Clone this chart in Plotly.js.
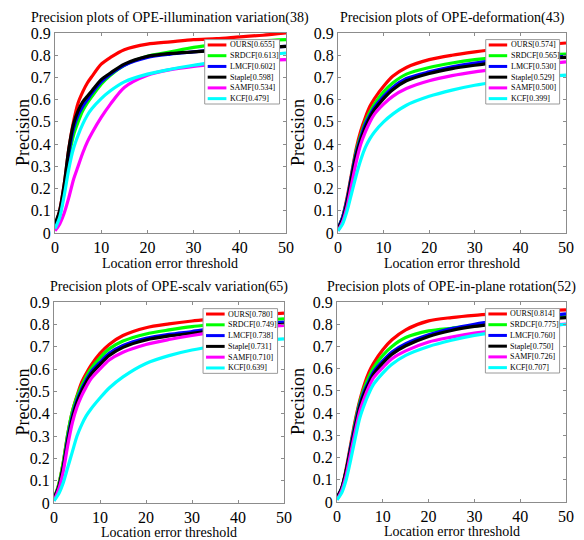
<!DOCTYPE html>
<html><head><meta charset="utf-8">
<script src="https://cdn.plot.ly/plotly-3.0.1.min.js"></script>
<style>html,body{margin:0;padding:0;background:#fff;}#chart{width:584px;height:540px;}</style>
</head><body><div id="chart"></div>
<script>
const thresholds = [0,1,2,3,4,5,6,7,8,10,12,15,20,25,30,35,40,45,50];
const trackers = ['OURS','SRDCF','LMCF','Staple','SAMF','KCF'];
const trackerColors = ['#ff0000','#00ff00','#0000ff','#000000','#ff00ff','#00ffff'];
const panelTitles = [
  'Precision plots of OPE-illumination variation(38)',
  'Precision plots of OPE-deformation(43)',
  'Precision plots of OPE-scalv variation(65)',
  'Precision plots of OPE-in-plane rotation(52)'
];
const xTitle = 'Location error threshold';
const yTitle = 'Precision';
const scores1 = ['0.655','0.613','0.602','0.598','0.534','0.479'];
const scores2 = ['0.574','0.565','0.530','0.529','0.500','0.399'];
const scores3 = ['0.780','0.749','0.738','0.731','0.710','0.639'];
const scores4 = ['0.814','0.775','0.760','0.750','0.726','0.707'];

const illumOURS   = [0.03,0.10,0.22,0.38,0.50,0.585,0.635,0.675,0.705,0.76,0.79,0.825,0.85,0.86,0.87,0.875,0.883,0.89,0.90];
const illumSRDCF  = [0.03,0.08,0.19,0.34,0.44,0.50,0.55,0.585,0.615,0.67,0.71,0.755,0.795,0.815,0.835,0.848,0.858,0.865,0.87];
const illumLMCF   = [0.03,0.09,0.20,0.36,0.47,0.53,0.57,0.60,0.63,0.68,0.715,0.755,0.79,0.805,0.815,0.825,0.83,0.835,0.84];
const illumStaple = [0.04,0.10,0.22,0.38,0.49,0.55,0.59,0.615,0.64,0.69,0.72,0.76,0.795,0.808,0.815,0.822,0.828,0.833,0.84];
const illumSAMF   = [0.01,0.04,0.09,0.16,0.24,0.30,0.36,0.41,0.45,0.52,0.58,0.655,0.71,0.735,0.75,0.76,0.768,0.775,0.78];
const illumKCF    = [0.02,0.07,0.17,0.29,0.38,0.44,0.49,0.53,0.56,0.605,0.64,0.68,0.715,0.737,0.755,0.77,0.785,0.80,0.81];

const deformOURS   = [0.02,0.07,0.16,0.27,0.38,0.46,0.52,0.57,0.605,0.66,0.705,0.745,0.78,0.80,0.815,0.828,0.838,0.847,0.855];
const deformSRDCF  = [0.02,0.07,0.15,0.26,0.37,0.44,0.50,0.545,0.58,0.635,0.675,0.715,0.745,0.765,0.78,0.79,0.797,0.802,0.805];
const deformLMCF   = [0.02,0.07,0.15,0.26,0.36,0.43,0.49,0.53,0.565,0.615,0.655,0.695,0.725,0.748,0.765,0.777,0.785,0.79,0.795];
const deformStaple = [0.02,0.06,0.14,0.25,0.35,0.42,0.475,0.52,0.555,0.605,0.645,0.685,0.718,0.74,0.755,0.768,0.777,0.785,0.79];
const deformSAMF   = [0.01,0.05,0.12,0.22,0.32,0.40,0.455,0.50,0.535,0.58,0.615,0.65,0.685,0.708,0.725,0.738,0.75,0.76,0.77];
const deformKCF    = [0.01,0.04,0.10,0.18,0.26,0.33,0.385,0.425,0.455,0.50,0.535,0.575,0.615,0.643,0.665,0.68,0.692,0.702,0.71];

const scaleOURS   = [0.02,0.08,0.18,0.31,0.41,0.48,0.54,0.58,0.615,0.67,0.71,0.75,0.785,0.802,0.815,0.825,0.835,0.843,0.85];
const scaleSRDCF  = [0.02,0.08,0.18,0.31,0.41,0.475,0.525,0.565,0.60,0.65,0.69,0.725,0.757,0.775,0.79,0.80,0.81,0.818,0.825];
const scaleLMCF   = [0.02,0.07,0.16,0.29,0.39,0.46,0.51,0.55,0.585,0.63,0.67,0.705,0.737,0.755,0.768,0.782,0.793,0.802,0.81];
const scaleStaple = [0.02,0.07,0.16,0.28,0.38,0.45,0.50,0.54,0.575,0.62,0.66,0.697,0.73,0.748,0.76,0.772,0.782,0.792,0.80];
const scaleSAMF   = [0.01,0.06,0.14,0.26,0.36,0.43,0.48,0.52,0.555,0.60,0.64,0.675,0.71,0.732,0.75,0.765,0.777,0.787,0.795];
const scaleKCF    = [0.01,0.04,0.09,0.16,0.23,0.30,0.35,0.39,0.42,0.47,0.515,0.565,0.625,0.66,0.685,0.702,0.715,0.727,0.735];

const rotOURS   = [0.02,0.06,0.15,0.26,0.37,0.46,0.53,0.585,0.625,0.685,0.73,0.775,0.815,0.83,0.84,0.847,0.853,0.86,0.865];
const rotSRDCF  = [0.02,0.06,0.14,0.25,0.36,0.45,0.515,0.565,0.605,0.66,0.70,0.74,0.77,0.782,0.792,0.805,0.818,0.83,0.84];
const rotLMCF   = [0.02,0.06,0.14,0.25,0.35,0.44,0.50,0.545,0.585,0.635,0.675,0.712,0.752,0.78,0.80,0.815,0.827,0.838,0.847];
const rotStaple = [0.02,0.06,0.14,0.24,0.34,0.43,0.49,0.535,0.575,0.625,0.665,0.703,0.745,0.772,0.79,0.803,0.815,0.823,0.83];
const rotSAMF   = [0.01,0.05,0.12,0.22,0.32,0.41,0.47,0.52,0.56,0.605,0.645,0.68,0.72,0.742,0.76,0.773,0.784,0.793,0.80];
const rotKCF    = [0.01,0.04,0.10,0.19,0.29,0.38,0.44,0.49,0.53,0.58,0.62,0.66,0.70,0.728,0.75,0.765,0.778,0.79,0.80];

const panels = [
  {series:[illumOURS,illumSRDCF,illumLMCF,illumStaple,illumSAMF,illumKCF], scores:scores1},
  {series:[deformOURS,deformSRDCF,deformLMCF,deformStaple,deformSAMF,deformKCF], scores:scores2},
  {series:[scaleOURS,scaleSRDCF,scaleLMCF,scaleStaple,scaleSAMF,scaleKCF], scores:scores3},
  {series:[rotOURS,rotSRDCF,rotLMCF,rotStaple,rotSAMF,rotKCF], scores:scores4}
];

const W = 584, H = 540;
const FONT = '"Liberation Serif", "Times New Roman", serif';
// plot-area pixel boxes [left, right, top, bottom]
const boxes = [[55,286,33,233],[338,566,33,233],[54,284,302,503],[337,566,302,502]];
const titleYpx = [18, 18, 287, 287];
const yTitleXpx = [23, 298, 22, 298];
const xTitleYpx = [263, 263, 532, 531];

const data = [];
const layout = {
  width: W, height: H, margin:{l:0,r:0,t:0,b:0},
  paper_bgcolor:'#fff', plot_bgcolor:'#fff', showlegend:false,
  font:{family:FONT, color:'#000'},
  annotations:[], shapes:[]
};

panels.forEach((p, i) => {
  const k = i === 0 ? '' : String(i+1);
  const b = boxes[i];
  const xd = [b[0]/W, b[1]/W], yd = [1 - b[3]/H, 1 - b[2]/H];
  p.series.forEach((ys, j) => {
    data.push({
      type:'scatter', mode:'lines', x:thresholds, y:ys,
      name: trackers[j] + '[' + p.scores[j] + ']',
      xaxis:'x'+k, yaxis:'y'+k,
      line:{color:trackerColors[j], width:3.2, shape:'spline', smoothing:0.8},
      hoverinfo:'skip'
    });
  });
  const axCommon = {
    showline:true, mirror:'ticks', linecolor:'#8c8c8c', linewidth:1,
    ticks:'inside', ticklen:3, tickcolor:'#8c8c8c', showgrid:false, zeroline:false,
    tickfont:{family:FONT, size:16, color:'#000'}, fixedrange:true
  };
  layout['xaxis'+k] = Object.assign({}, axCommon, {
    domain:xd, anchor:'y'+k, range:[0,50], dtick:10, tick0:0
  });
  layout['yaxis'+k] = Object.assign({}, axCommon, {
    domain:yd, anchor:'x'+k, range:[0,0.9], dtick:0.1, tick0:0
  });
  layout.annotations.push({
    text: panelTitles[i], xref:'paper', yref:'paper',
    x:(b[0]+b[1])/2/W, y:1 - titleYpx[i]/H, xanchor:'center', yanchor:'middle',
    showarrow:false, font:{family:FONT, size:14, color:'#000'}
  });
  layout.annotations.push({
    text: xTitle, xref:'paper', yref:'paper',
    x:(b[0]+b[1])/2/W, y:1 - xTitleYpx[i]/H, xanchor:'center', yanchor:'middle',
    showarrow:false, font:{family:FONT, size:14, color:'#000'}
  });
  layout.annotations.push({
    text: yTitle, xref:'paper', yref:'paper', textangle:-90,
    x:yTitleXpx[i]/W, y:1 - (b[2]+b[3])/2/H, xanchor:'center', yanchor:'middle',
    showarrow:false, font:{family:FONT, size:18, color:'#000'}
  });
  // legend box (drawn in axis-domain coordinates)
  const xr = 'x'+k+' domain', yr = 'y'+k+' domain';
  const lx0 = 0.648, lx1 = 0.972, ly1 = 0.967, ly0 = 0.645;
  layout.shapes.push({type:'rect', xref:xr, yref:yr, x0:lx0, x1:lx1, y0:ly0, y1:ly1,
    fillcolor:'#fff', line:{color:'#9a9a9a', width:1}, layer:'above'});
  const step = (ly1 - ly0)/6;
  trackers.forEach((t, j) => {
    const yc = ly1 - step*(j+0.5);
    layout.shapes.push({type:'line', xref:xr, yref:yr, x0:0.661, x1:0.742, y0:yc, y1:yc,
      line:{color:trackerColors[j], width:3}, layer:'above'});
    layout.annotations.push({text: t + '[' + p.scores[j] + ']', xref:xr, yref:yr,
      x:0.748, y:yc, xanchor:'left', yanchor:'middle', showarrow:false,
      font:{family:FONT, size:8, color:'#000'}});
  });
});

Plotly.newPlot('chart', data, layout, {staticPlot:true, displayModeBar:false});
</script>
</body></html>
